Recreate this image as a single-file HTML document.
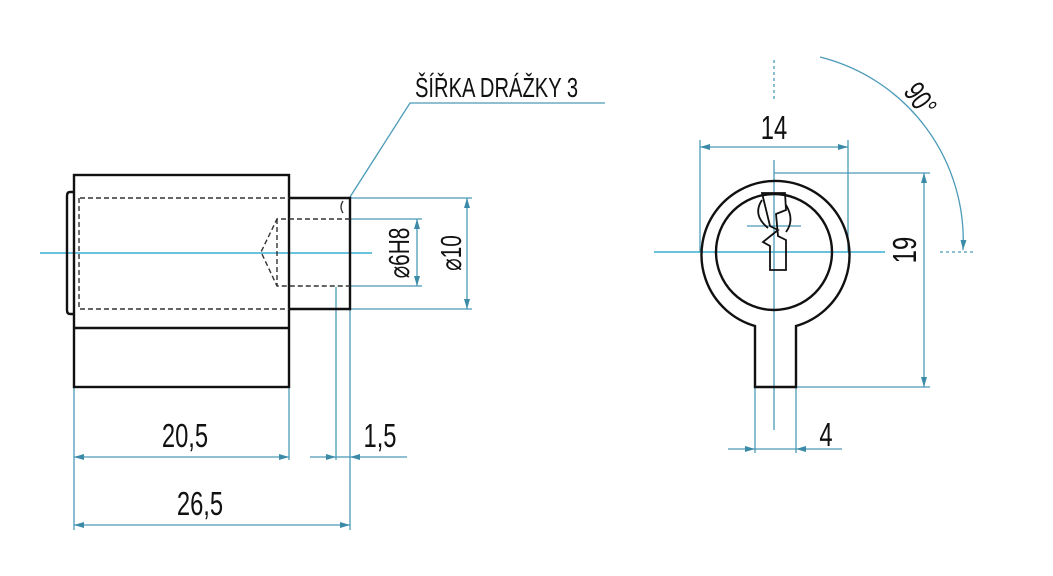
<!DOCTYPE html>
<html><head><meta charset="utf-8"><style>
html,body{margin:0;padding:0;background:#fff;}
svg{display:block}
text{font-family:"Liberation Sans",sans-serif;fill:#111;}
</style></head><body>
<svg width="1053" height="576" viewBox="0 0 1053 576" xmlns="http://www.w3.org/2000/svg">
<defs>
<marker id="a" viewBox="0 0 10 6" refX="10" refY="3" markerWidth="10" markerHeight="6" orient="auto-start-reverse" markerUnits="userSpaceOnUse"><path d="M0,0L10,3L0,6z" fill="#3a8aa8"/></marker>
</defs>
<g stroke="#4a9ab8" stroke-width="1.3" fill="none">
<line x1="40" y1="253" x2="372" y2="253" stroke="#3aaed0" stroke-width="1.6"/>
<line x1="350" y1="198" x2="472" y2="198"/>
<line x1="350" y1="309" x2="472" y2="309"/>
<line x1="350" y1="219" x2="422" y2="219"/>
<line x1="350" y1="286" x2="422" y2="286"/>
<line x1="417" y1="219" x2="417" y2="286" marker-start="url(#a)" marker-end="url(#a)"/>
<line x1="467" y1="198" x2="467" y2="309" marker-start="url(#a)" marker-end="url(#a)"/>
<line x1="74" y1="387" x2="74" y2="530"/>
<line x1="289" y1="387" x2="289" y2="460"/>
<line x1="336" y1="287" x2="336" y2="460"/>
<line x1="350" y1="309" x2="350" y2="530"/>
<line x1="74" y1="457" x2="289" y2="457" marker-start="url(#a)" marker-end="url(#a)"/>
<line x1="310" y1="457" x2="336" y2="457" marker-end="url(#a)"/>
<line x1="407" y1="457" x2="350" y2="457" marker-end="url(#a)"/>
<line x1="336" y1="457" x2="350" y2="457"/>
<line x1="74" y1="525" x2="350" y2="525" marker-start="url(#a)" marker-end="url(#a)"/>
<polyline points="350,197 410,103 605,103"/>
<line x1="654" y1="252" x2="885" y2="252" stroke="#3aaed0" stroke-width="1.6"/>
<line x1="774" y1="160" x2="774" y2="430"/>
<line x1="774" y1="60" x2="774" y2="100" stroke-dasharray="3,3"/>
<line x1="700" y1="252" x2="700" y2="140"/>
<line x1="848" y1="252" x2="848" y2="140"/>
<line x1="700" y1="147" x2="848" y2="147" marker-start="url(#a)" marker-end="url(#a)"/>
<line x1="774" y1="173" x2="930" y2="173"/>
<line x1="796" y1="387" x2="930" y2="387"/>
<line x1="924" y1="173" x2="924" y2="387" marker-start="url(#a)" marker-end="url(#a)"/>
<line x1="755" y1="387" x2="755" y2="453"/>
<line x1="796" y1="387" x2="796" y2="453"/>
<line x1="728" y1="449" x2="755" y2="449" marker-end="url(#a)"/>
<line x1="842" y1="449" x2="796" y2="449" marker-end="url(#a)"/>
<line x1="755" y1="449" x2="796" y2="449"/>
<line x1="940" y1="252" x2="975" y2="252" stroke-dasharray="3,3"/>
<line x1="747" y1="226" x2="801" y2="226"/>
<path d="M820,57 A189,189 0 0 1 963,250" marker-end="url(#a)"/>
</g>
<g stroke="#111" stroke-width="2.4" fill="none">
<rect x="74" y="175" width="215" height="212"/>
<line x1="74" y1="328" x2="289" y2="328"/>
<polyline points="289,198 350,198 350,309 289,309"/>
<path d="M74,192 H70 Q67,192 67,196 V310 Q67,314 70,314 H74"/>
</g>
<g stroke="#333" stroke-width="1.4" fill="none" stroke-dasharray="5,3">
<line x1="80" y1="198" x2="289" y2="198"/>
<line x1="80" y1="309" x2="289" y2="309"/>
<line x1="79" y1="198" x2="79" y2="309"/>
<polyline points="350,219 277,219 261,252 277,286 350,286"/>
<line x1="277" y1="219" x2="277" y2="286"/>
</g>
<path d="M343,201 q-4,6 0,12" stroke="#333" fill="none" stroke-width="1.3"/>
<g stroke="#111" stroke-width="2.4" fill="none">
<path d="M755,326 A74,74 0 1 1 796,326 V387 H755 Z"/>
<circle cx="774" cy="252" r="58"/>
<path d="M762,193 H785 L786,210 L776,214 L778,236 L786,240 V270 H770 V246 L763,242 L778,230 L770,226 Z" stroke-width="1.8"/>
<path d="M762,200 Q752,215 768,228" stroke-width="1.8"/>
<path d="M786,205 Q795,220 786,232" stroke-width="1.8"/>
</g>
<text x="415" y="97" font-size="28" transform="translate(415 0) scale(0.72 1) translate(-415 0)">ŠÍŘKA DRÁŽKY 3</text>
<text x="185" y="447" font-size="33" text-anchor="middle" transform="translate(185 0) scale(0.72 1) translate(-185 0)">20,5</text>
<text x="380" y="447" font-size="33" text-anchor="middle" transform="translate(380 0) scale(0.72 1) translate(-380 0)">1,5</text>
<text x="200" y="515" font-size="33" text-anchor="middle" transform="translate(200 0) scale(0.72 1) translate(-200 0)">26,5</text>
<text font-size="29" text-anchor="middle" transform="translate(409 253) rotate(-90) scale(0.72 1)">⌀6H8</text>
<text font-size="29" text-anchor="middle" transform="translate(461 253) rotate(-90) scale(0.72 1)">⌀10</text>
<text x="774" y="139" font-size="33" text-anchor="middle" transform="translate(774 0) scale(0.72 1) translate(-774 0)">14</text>
<text font-size="33" text-anchor="middle" transform="translate(916 250) rotate(-90) scale(0.72 1)">19</text>
<text x="826" y="446" font-size="33" text-anchor="middle" transform="translate(826 0) scale(0.72 1) translate(-826 0)">4</text>
<text font-size="30" text-anchor="middle" transform="translate(912 105) rotate(55) scale(0.72 1)">90°</text>
</svg>
</body></html>
